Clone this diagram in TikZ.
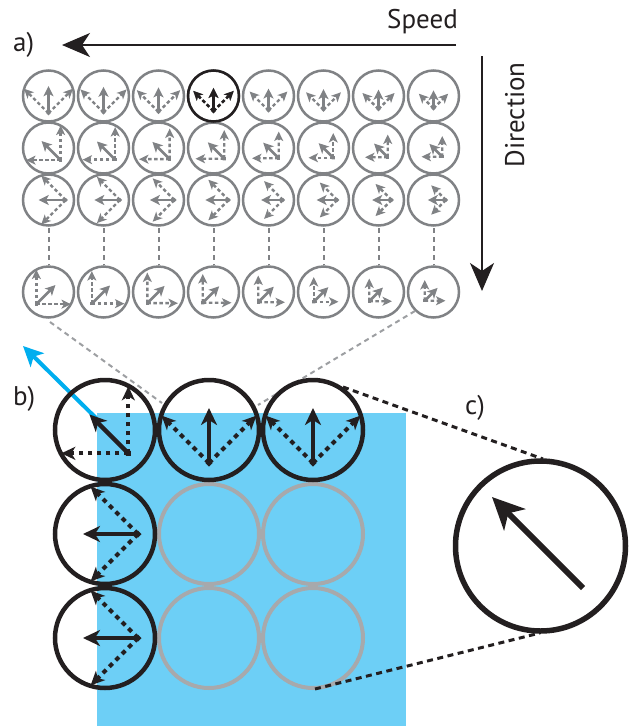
\documentclass[tikz,border=0pt]{standalone}
\usepackage{fontspec}
\setmainfont{PT Sans}
\usetikzlibrary{arrows.meta}
\definecolor{ink}{HTML}{231F20}
\definecolor{agray}{HTML}{808285}
\definecolor{lgray}{HTML}{A7A9AC}
\definecolor{cgray}{HTML}{9D9FA2}
\definecolor{skyfill}{HTML}{6DCFF6}
\definecolor{cyanarrow}{HTML}{00AEEF}
\tikzset{
  lbl/.style={font=\fontsize{27}{30}\selectfont, text=ink, inner sep=0pt},
  axisarrow/.style={ink, line width=1.6pt, -{Stealth[length=28pt,width=24pt,inset=8pt]}},
  smallcirc/.style={agray, line width=2.5pt},
  bigcirc/.style={ink, line width=4.5pt},
  graycirc/.style={lgray, line width=4pt},
  sola/.style={line width=2.6pt, -{Stealth[length=10pt,width=10pt,inset=2.5pt]}},
  dota/.style={line width=2.4pt, dash pattern=on 3.5pt off 2.5pt, -{Stealth[length=9.5pt,width=9pt,inset=2.5pt]}},
  solb/.style={line width=4.5pt, -{Stealth[length=17pt,width=16pt,inset=5pt]}},
  dotb/.style={line width=4pt, dash pattern=on 4.5pt off 4.5pt, -{Stealth[length=14pt,width=13pt,inset=4pt]}},
  vdash/.style={agray, line width=2pt, dash pattern=on 5pt off 4pt},
  guide/.style={cgray, line width=2pt, dash pattern=on 5pt off 4pt},
  zoomline/.style={ink, line width=3pt, dash pattern=on 6pt off 4.5pt}
}
% #1 centre, #2 rotation, #3 base offset, #4 solid length, #5 dotted length,
% #6 size set (a/b), #7 colour, #8 diamond half size
\newcommand{\flowpat}[8]{%
  \begin{scope}[shift={#1},rotate=#2]
    \draw[dot#6,#7] (0,#3) -- ({-0.7071*#5},{#3-0.7071*#5});
    \draw[dot#6,#7] (0,#3) -- ({0.7071*#5},{#3-0.7071*#5});
    \draw[sol#6,#7] (0,#3) -- (0,{#3-#4});
    \fill[#7] (0,{#3+#8}) -- (#8,#3) -- (0,{#3-#8}) -- (-#8,#3) -- cycle;
  \end{scope}}
\begin{document}
\begin{tikzpicture}[x=1pt,y=-1pt]
\useasboundingbox (0,0) rectangle (644,726);
% ---------- panel a ----------
\node[lbl, anchor=base east] (speed) at (458,28) {Speed};
\node[lbl, anchor=base west] (la) at (13,51) {a)};
\node[lbl, rotate=90, anchor=base] (dir) at (524,115) {Direction};
\coordinate (sp1) at (456,45);
\coordinate (sp2) at (62,45);
\draw[axisarrow] (sp1) -- (sp2);
\coordinate (dr1) at (482,56);
\coordinate (dr2) at (482,291);
\draw[axisarrow] (dr1) -- (dr2);
\foreach \k in {0,...,7} {
  \pgfmathsetmacro\cx{48.5+55*\k}
  \pgfmathsetmacro\s{\k/7}
  \pgfmathsetmacro\bb{17.2*(1-0.28*\s)}
  \pgfmathsetmacro\LL{27*(1-0.33*\s)}
  \pgfmathsetmacro\DD{34.6*(1-0.4*\s)}
  \foreach \cy/\rot in {96/0,148/45,200/90,292/-45} {
    \draw[smallcirc] (\cx,\cy) circle[radius=25.5];
    \flowpat{(\cx,\cy)}{\rot}{\bb}{\LL}{\DD}{a}{agray}{2.2}
  }
  \draw[vdash] (\cx,228) -- (\cx,265);
}
% highlighted cell
\pgfmathsetmacro\bb{17.2*(1-0.28*3/7)}
\pgfmathsetmacro\LL{27*(1-0.33*3/7)}
\pgfmathsetmacro\DD{34.6*(1-0.4*3/7)}
\draw[ink, line width=2.5pt] (213.5,96) circle[radius=25.5];
\flowpat{(213.5,96)}{0}{\bb}{\LL}{\DD}{a}{ink}{2.2}
% guide lines a -> b
\coordinate (g1a) at (50,322);
\coordinate (g1b) at (162,403);
\coordinate (g2a) at (415,311);
\coordinate (g2b) at (258,405);
\draw[guide] (g1a) -- (g1b);
\draw[guide] (g2a) -- (g2b);
% ---------- panel b ----------
\node[lbl, anchor=base west] (lb) at (13,405) {b)};
\fill[skyfill] (97,413) rectangle (406,726);
\coordinate (bl1) at (96,418);
\coordinate (bl2) at (23,346);
\draw[cyanarrow, line width=4pt, -{Stealth[length=20pt,width=19pt,inset=5pt]}] (bl1) -- (bl2);
\foreach \x/\y in {209/534,313/534,209/638,313/638}
  \draw[graycirc] (\x,\y) circle[radius=50];
\foreach \x/\y in {105/430,209/430,313/430,105/534,105/638}
  \draw[bigcirc] (\x,\y) circle[radius=50];
\flowpat{(105,430)}{45}{33}{55}{67}{b}{ink}{3.5}
\flowpat{(209,430)}{0}{33}{55}{67}{b}{ink}{3.5}
\flowpat{(313,430)}{0}{33}{55}{67}{b}{ink}{3.5}
\flowpat{(105,534)}{90}{33}{55}{67}{b}{ink}{3.5}
\flowpat{(105,638)}{90}{33}{55}{67}{b}{ink}{3.5}
% ---------- panel c ----------
\node[lbl, anchor=base west] (lc) at (465,414) {c)};
\draw[ink, line width=5.5pt] (540.5,546) circle[radius=85];
\coordinate (ca1) at (583,588);
\coordinate (ca2) at (492,497);
\draw[ink, line width=6pt, -{Stealth[length=32pt,width=30pt,inset=9pt]}] (ca1) -- (ca2);
\coordinate (z1a) at (343,387);
\coordinate (z1b) at (543,459);
\coordinate (z2a) at (315,689);
\coordinate (z2b) at (540,633);
\draw[zoomline] (z1a) -- (z1b);
\draw[zoomline] (z2a) -- (z2b);
\end{tikzpicture}
\end{document}
